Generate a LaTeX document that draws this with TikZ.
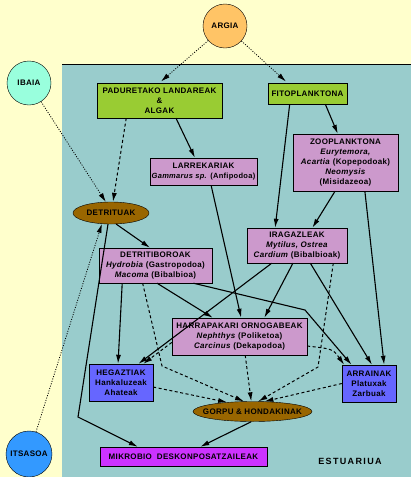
\documentclass[tikz,border=0pt]{standalone}
\usepackage{fontspec}
\setmainfont{Liberation Sans}[LetterSpace=4]
\usetikzlibrary{shapes.geometric,arrows.meta,positioning}

\definecolor{creamc}{RGB}{255,255,204}
\definecolor{estuc}{RGB}{153,204,204}
\definecolor{orangec}{RGB}{255,196,102}
\definecolor{mintc}{RGB}{153,255,221}
\definecolor{seac}{RGB}{51,153,255}
\definecolor{greenc}{RGB}{153,204,51}
\definecolor{pinkc}{RGB}{204,153,204}
\definecolor{brownc}{RGB}{153,102,0}
\definecolor{bluec}{RGB}{102,102,255}
\definecolor{magentac}{RGB}{204,51,255}

\begin{document}
\begin{tikzpicture}[
    x=1pt, y=-1pt,
    font=\fontsize{8}{10}\selectfont\bfseries,
    src/.style={circle, draw, minimum size=44pt, inner sep=0pt},
    box/.style={draw, align=center, inner sep=1pt},
    lump/.style={ellipse, draw, fill=brownc, inner sep=0pt},
    feed/.style={-{Latex[length=9pt,width=5pt]}, line width=1.1pt},
    light/.style={-{Latex[length=9pt,width=5pt]}, line width=0.8pt, dash pattern=on 1pt off 1.5pt},
    waste/.style={-{Latex[length=9pt,width=5pt]}, line width=1pt, dash pattern=on 3pt off 2.5pt}
]
    % background: land and estuary
    \useasboundingbox (0,0) rectangle (411,477);
    \fill[creamc] (0,0) rectangle (411,477);
    \fill[estuc] (62,64) rectangle (411,477);
    \draw[line width=0.8pt] (62,64) -- (411,64);

    % sources
    \node[src, fill=orangec] (argia) at (225,26) {ARGIA};
    \node[src, fill=mintc] (ibaia) at (29,83) {IBAIA};
    \node[src, fill=seac, minimum size=46pt] (itsasoa) at (29,454) {ITSASOA};

    % producers
    \node[box, fill=greenc, minimum width=125pt, minimum height=35pt] (landare) at (159.5,100.5)
        {PADURETAKO LANDAREAK\\\&\\ALGAK};
    \node[box, fill=greenc, minimum width=79pt, minimum height=21pt] (fito) at (307.5,93.5)
        {FITOPLANKTONA};

    % consumers
    \node[box, fill=pinkc, minimum width=107pt, minimum height=27pt] (larre) at (203.5,171.5)
        {LARREKARIAK\\{\fontsize{7.5}{10}\selectfont\textit{Gammarus sp.} (Anfipodoa)}};
    \node[box, fill=pinkc, minimum width=105pt, minimum height=57pt] (zoo) at (345.5,162.5)
        {ZOOPLANKTONA\\\textit{Eurytemora,}\\\textit{Acartia} (Kopepodoak)\\\textit{Neomysis}\\(Misidazeoa)};
    \node[lump, minimum width=76pt, minimum height=22pt] (detri) at (111,213) {DETRITUAK};
    \node[box, fill=pinkc, minimum width=113pt, minimum height=35pt] (detbor) at (155.5,265.5)
        {DETRITIBOROAK\\\textit{Hydrobia} (Gastropodoa)\\\textit{Macoma} (Bibalbioa)};
    \node[box, fill=pinkc, minimum width=100pt, minimum height=35pt] (iragaz) at (297,245.5)
        {IRAGAZLEAK\\\textit{Mytilus, Ostrea}\\\textit{Cardium} (Bibalbioak)};
    \node[box, fill=pinkc, minimum width=135pt, minimum height=37pt] (harra) at (239.5,336.5)
        {HARRAPAKARI ORNOGABEAK\\\textit{Nephthys} (Poliketoa)\\\textit{Carcinus} (Dekapodoa)};
    \node[box, fill=bluec, minimum width=64pt, minimum height=37pt] (hegazti) at (121,382.5)
        {HEGAZTIAK\\Hankaluzeak\\Ahateak};
    \node[box, fill=bluec, minimum width=54pt, minimum height=37pt] (arrain) at (369,383.5)
        {ARRAINAK\\Platuxak\\Zarbuak};

    % remains
    \node[lump, minimum width=119pt, minimum height=20pt, inner xsep=-9pt] (gorpu) at (252.5,411.5)
        {GORPU \& HONDAKINAK};
    \node[box, fill=magentac, minimum width=167pt, minimum height=19pt] (mikro) at (183.5,456.5)
        {MIKROBIO\ \ DESKONPOSATZAILEAK};
    \node[font=\fontsize{9}{10}\selectfont\bfseries\addfontfeatures{LetterSpace=15}] (estu) at (350,461) {ESTUARIUA};

    % bends
    \coordinate (mkbend) at (78,417);
    \coordinate (abend) at (305,310);
    \coordinate (gbendr) at (318,367);
    \coordinate (gbendl) at (162,366);
    \coordinate (hactrl) at (333,349);

    % light and water
    \draw[light, shorten >=2pt] (argia) -- (landare.north);
    \draw[light, shorten >=2pt] (argia) -- (fito.152);
    \draw[light] (ibaia) -- (detri.115);
    \draw[light] (itsasoa) -- (detri.230);

    % feeding
    \draw[waste] (landare.208) -- (detri.80);
    \draw[feed] (landare.313) -- (larre.122);
    \draw[feed] (fito.329) -- (zoo.105);
    \draw[feed] (fito.211) -- (iragaz.141);
    \draw[feed] (zoo.250) -- (iragaz.49);
    \draw[feed] (zoo.304) -- (arrain.51);
    \draw[feed] (larre.299) -- (harra.85);
    \draw[feed] (detri.295) -- (detbor.107);
    \draw[feed] (detri.255) -- (mkbend) -- (mikro.168);
    \draw[feed] (detbor.208) -- (hegazti.99);
    \draw[feed] (detbor.275) -- (harra.145);
    \draw[feed] (detbor.335) -- (abend) -- (arrain.133);
    \draw[feed] (iragaz.215) -- (hegazti.47);
    \draw[feed] (iragaz.257) -- (harra.37);
    \draw[feed] (iragaz.307) -- (arrain.81);

    % dead matter
    \draw[waste] (iragaz.334) -- (gbendr) -- (gorpu.60);
    \draw[waste] (detbor.234) -- (gbendl) -- (gorpu.130);
    \draw[waste] (harra.185) -- (hegazti.40);
    \draw[waste] (harra.352) .. controls (hactrl) .. (arrain.143);
    \draw[waste] (harra.287) -- (gorpu.97);
    \draw[waste] (hegazti.352) -- (gorpu.160);
    \draw[waste] (arrain.180) -- (gorpu.40);
    \draw[feed] (gorpu.263) -- (mikro.30);
\end{tikzpicture}
\end{document}
